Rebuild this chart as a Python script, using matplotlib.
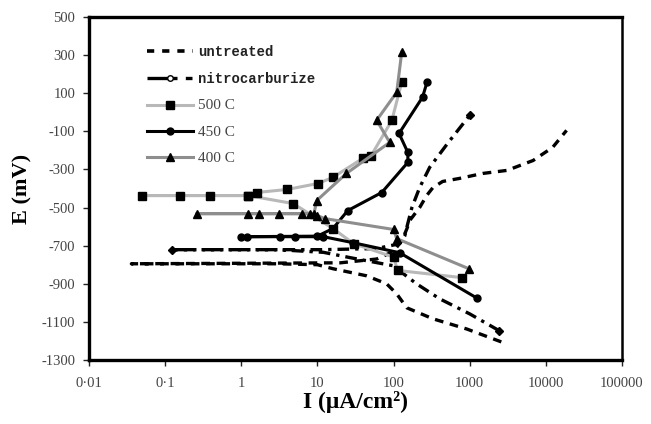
"""Polarisation curves (E vs log I) for untreated, nitrocarburized and 400-500 C samples."""
import matplotlib
matplotlib.use("Agg")
import matplotlib.pyplot as plt
from matplotlib.lines import Line2D

# --- data (I in uA/cm2, E in mV) ---
i_untreated = [2600, 910, 330, 149, 110, 81, 44, 16, 10, 3, 1, 0.3, 0.1, 0.036,
               20, 60, 100, 130, 150, 163, 220, 272, 329, 442, 737, 1480, 3090, 6800, 12300, 18700]
e_untreated = [-1205, -1137, -1084, -1026, -953, -900, -858, -821, -800, -795, -795, -795, -795, -795,
               -790, -770, -730, -670, -610, -568, -500, -437, -395, -363, -347, -321, -305, -253, -184, -95]

i_nitro = [2460, 1000, 404, 200, 98, 27, 12, 3, 1, 0.3, 0.123,
           12, 60, 120, 140, 149, 174, 220, 298, 513, 1000]
e_nitro = [-1147, -1058, -979, -900, -805, -763, -735, -721, -721, -721, -721,
           -721, -715, -690, -650, -605, -500, -395, -289, -163, -16]

i_500 = [800, 113, 100, 30, 16, 4.8, 1.22, 0.39, 0.156, 0.05, 1.22, 1.6, 4.0, 10.1, 15.9, 39.4, 50, 95, 128]
e_500 = [-868, -830, -760, -690, -610, -479, -437, -437, -437, -437, -437, -421, -405, -374, -342, -242, -232, -42, 158]

i_450 = [1230, 120, 29, 12, 5.0, 3.2, 1.2, 1.0, 10, 16, 25, 70, 154, 154, 118, 240, 275]
e_450 = [-974, -737, -684, -653, -653, -653, -653, -653, -650, -610, -516, -421, -263, -211, -111, 79, 158]

i_400 = [975, 110, 100, 12.5, 10, 8, 6.2, 3.1, 1.7, 1.22, 0.26, 9.0, 9.8, 24, 89, 60, 110, 128]
e_400 = [-821, -663, -615, -558, -542, -532, -532, -532, -532, -532, -532, -532, -463, -321, -158, -42, 105, 316]

x_ticks = [0.01, 0.1, 1, 10, 100, 1000, 10000, 100000]
x_tick_labels = ["0·01", "0·1", "1", "10", "100", "1000", "10000", "100000"]
y_ticks = list(range(-1300, 501, 200))

W, H = 651, 424
fig = plt.figure(figsize=(W / 100, H / 100), dpi=100)
ax = fig.add_axes([89 / W, 1 - 360 / H, (622 - 89) / W, (360 - 17) / H])

ax.plot(i_untreated, e_untreated, color="black", lw=2.4, ls=(0, (2.6, 2.0)))
nitro_marks = [0, 10, len(i_nitro) - 1]
ax.plot(i_nitro, e_nitro, color="black", lw=2.4, ls=(0, (3.5, 1.8, 1.0, 1.8)),
        marker="D", ms=4, markevery=nitro_marks)
ax.plot(i_500, e_500, color="#b8b8b8", lw=2.2, marker="s", ms=6,
        mfc="black", mec="black")
ax.plot(i_450, e_450, color="black", lw=2.2, marker="o", ms=5,
        mfc="black", mec="black")
ax.plot(i_400, e_400, color="#8e8e8e", lw=2.2, marker="^", ms=6,
        mfc="black", mec="black")

ax.set_xscale("log")
ax.set_xlim(0.01, 100000)
ax.set_ylim(-1300, 500)
ax.set_xticks(x_ticks)
ax.set_xticklabels(x_tick_labels)
ax.minorticks_off()
ax.set_yticks(y_ticks)
ax.set_yticklabels([str(v) for v in y_ticks])
ax.tick_params(axis="both", direction="out", length=4, width=1, colors="#222222",
               labelsize=10.5, labelcolor="#444444")
ax.tick_params(axis="x", pad=8)
ax.tick_params(axis="y", pad=6)
for lab in ax.get_xticklabels() + ax.get_yticklabels():
    lab.set_family("Liberation Serif")

for side in ["left", "bottom", "top"]:
    ax.spines[side].set_linewidth(2.4)
ax.spines["right"].set_linewidth(1.8)

ax.set_ylabel("E (mV)", fontsize=16, fontweight="bold", family="Liberation Serif", labelpad=6)
ax.set_xlabel("I (μA/cm²)", fontsize=17, fontweight="bold",
              family="Liberation Serif", labelpad=1)

handles = [
    Line2D([], [], color="black", lw=2.6, ls=(0, (2.0, 2.2))),
    Line2D([], [], color="black", lw=2.4, ls=(0, (9, 2.5, 2, 2.5)), marker="o", ms=4,
           mfc="white", mec="black", markevery=[1]),
    Line2D([], [], color="#b8b8b8", lw=2.2, marker="s", ms=6, mfc="black", mec="black"),
    Line2D([], [], color="black", lw=2.2, marker="o", ms=5, mfc="black", mec="black"),
    Line2D([], [], color="#8e8e8e", lw=2.2, marker="^", ms=6, mfc="black", mec="black"),
]
labels = ["untreated", "nitrocarburize", "500 C", "450 C", "400 C"]
leg = ax.legend(handles, labels, loc="upper left", bbox_to_anchor=(147 / W, 1 - 45 / H),
                bbox_transform=fig.transFigure, frameon=False, fontsize=10,
                handlelength=3.3, handletextpad=0.4, labelspacing=0.95,
                borderpad=0, borderaxespad=0)
for k, t in enumerate(leg.get_texts()):
    if k < 2:
        t.set_family("Liberation Mono")
        t.set_fontweight("bold")
        t.set_color("#222222")
    else:
        t.set_family("Liberation Serif")
        t.set_fontsize(11)
        t.set_color("#444444")

fig.savefig("out.png", dpi=100)
